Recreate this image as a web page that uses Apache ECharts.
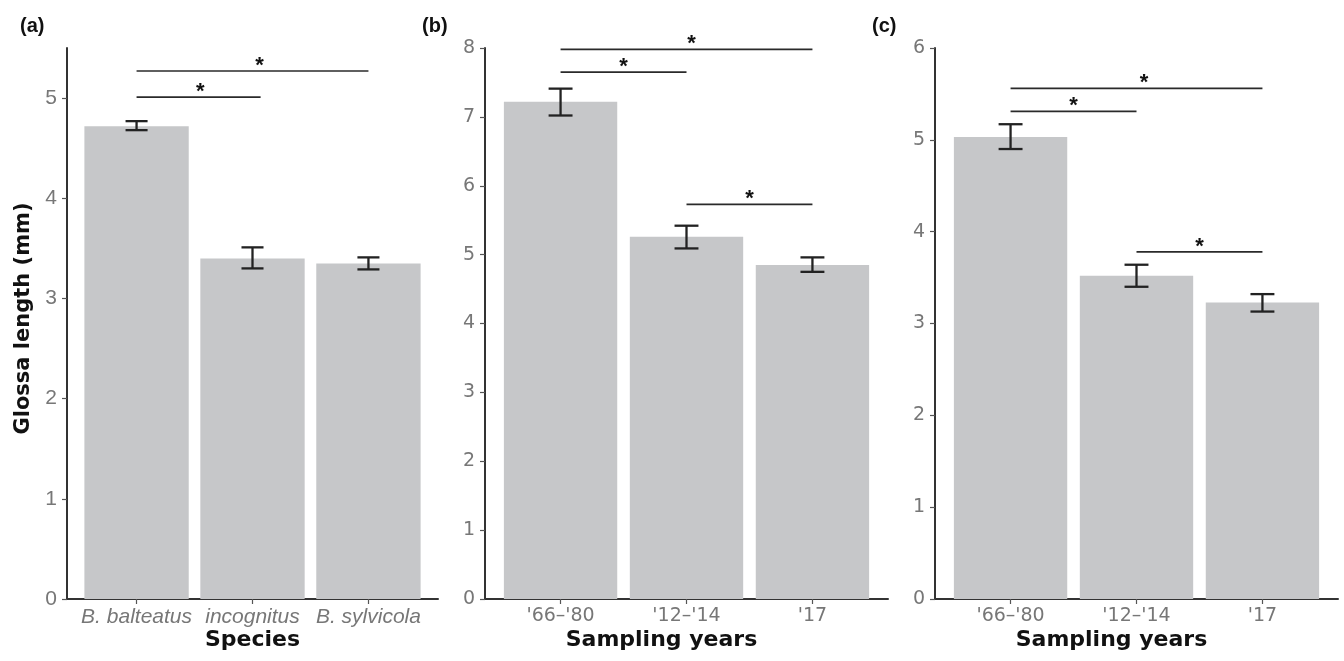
<!DOCTYPE html>
<html>
<head>
<meta charset="utf-8">
<script src="https://cdn.jsdelivr.net/npm/echarts@6/dist/echarts.min.js"></script>
<style>
  html, body { margin: 0; padding: 0; background: #fff; }
  #chart { width: 1344px; height: 661px; }
</style>
</head>
<body>
<div id="chart"></div>
<script>
// panel (a): species
const speciesNames = ['B. balteatus', 'incognitus', 'B. sylvicola']
const meanA = [4.72, 3.40, 3.35]
const lowA = [4.68, 3.30, 3.29]
const highA = [4.77, 3.51, 3.41]

// panels (b) and (c): sampling years
const yearLabels = ["'66–'80", "'12–'14", "'17"]
const meanB = [7.22, 5.26, 4.85]
const lowB = [7.02, 5.09, 4.75]
const highB = [7.41, 5.42, 4.96]
const meanC = [5.03, 3.52, 3.23]
const lowC = [4.90, 3.40, 3.13]
const highC = [5.17, 3.64, 3.32]

// significance bars: [from, to, height, star position]
const sigA = [[1, 3, 5.27, 2.06], [1, 2.07, 5.01, 1.55]]
const sigB = [[1, 3, 7.98, 2.04], [1, 2, 7.65, 1.5], [2, 3, 5.73, 2.5]]
const sigC = [[1, 3, 5.56, 2.06], [1, 2, 5.31, 1.5], [2, 3, 3.78, 2.5]]

const yTicksA = [0, 1, 2, 3, 4, 5]
const yTicksB = [0, 1, 2, 3, 4, 5, 6, 7, 8]
const yTicksC = [0, 1, 2, 3, 4, 5, 6]
const yMax = [5.5, 8, 6]

const barColor = '#c6c7c9'
const inkColor = '#222'
const sansA = 'Liberation Sans, Arial, sans-serif'
const sansB = 'DejaVu Sans, sans-serif'

const chart = echarts.init(document.getElementById('chart'))

const grids = [
  { left: 67, top: 48, width: 371, bottom: 62 },
  { left: 485, top: 48, width: 403, bottom: 62 },
  { left: 935, top: 48, width: 403, bottom: 62 }
]

const makeX = (gi, labels, name, labelFont, shift) => ({
  type: 'value',
  gridIndex: gi,
  min: 0.4,
  max: 3.6,
  name: name,
  nameLocation: 'middle',
  nameGap: 30,
  nameMoveOverlap: false,
  nameTextStyle: {
    fontFamily: sansB, fontWeight: 'bold', fontSize: 22, color: '#111',
    padding: [0, shift, 0, 0]
  },
  axisLine: { onZero: false, lineStyle: { color: '#333', width: 2 } },
  axisTick: { customValues: [1, 2, 3], length: 5, lineStyle: { color: '#555', width: 1.2 } },
  axisLabel: {
    customValues: [1, 2, 3],
    formatter: v => labels[Math.round(v) - 1],
    margin: 8,
    color: '#777',
    ...labelFont
  },
  splitLine: { show: false }
})

const makeY = (gi, ticks, max, labelFont) => ({
  type: 'value',
  gridIndex: gi,
  min: 0,
  max: max,
  axisLine: { show: true, onZero: false, lineStyle: { color: '#333', width: 2 } },
  axisTick: { show: true, customValues: ticks, length: 5, lineStyle: { color: '#555', width: 1.2 } },
  axisLabel: { customValues: ticks, margin: 10, color: '#777', ...labelFont },
  splitLine: { show: false }
})

const barSeries = (gi, means) => ({
  type: 'custom',
  xAxisIndex: gi,
  yAxisIndex: gi,
  data: means.map((m, i) => [i + 1, m]),
  encode: { x: 0, y: 1 },
  renderItem: (params, api) => {
    const a = api.coord([api.value(0) - 0.45, api.value(1)])
    const b = api.coord([api.value(0) + 0.45, 0])
    return {
      type: 'rect',
      shape: { x: a[0], y: a[1], width: b[0] - a[0], height: b[1] - a[1] },
      style: { fill: barColor }
    }
  }
})

const errSeries = (gi, lows, highs) => ({
  type: 'custom',
  xAxisIndex: gi,
  yAxisIndex: gi,
  z: 3,
  data: lows.map((l, i) => [i + 1, l, highs[i]]),
  encode: { x: 0, y: [1, 2] },
  renderItem: (params, api) => {
    const x = api.value(0)
    const lo = api.coord([x, api.value(1)])
    const hi = api.coord([x, api.value(2)])
    const half = api.size([0.095, 0])[0]
    const st = { stroke: inkColor, lineWidth: 2.3 }
    return {
      type: 'group',
      children: [
        { type: 'line', shape: { x1: lo[0], y1: lo[1], x2: hi[0], y2: hi[1] }, style: st },
        { type: 'line', shape: { x1: lo[0] - half, y1: lo[1], x2: lo[0] + half, y2: lo[1] }, style: st },
        { type: 'line', shape: { x1: hi[0] - half, y1: hi[1], x2: hi[0] + half, y2: hi[1] }, style: st }
      ]
    }
  }
})

const sigSeries = (gi, sig) => ({
  type: 'custom',
  xAxisIndex: gi,
  yAxisIndex: gi,
  z: 4,
  data: sig,
  encode: { x: [0, 1, 3], y: 2 },
  renderItem: (params, api) => {
    const p1 = api.coord([api.value(0), api.value(2)])
    const p2 = api.coord([api.value(1), api.value(2)])
    const s = api.coord([api.value(3), api.value(2)])
    return {
      type: 'group',
      children: [
        { type: 'line', shape: { x1: p1[0], y1: p1[1], x2: p2[0], y2: p2[1] }, style: { stroke: '#2a2a2a', lineWidth: 1.6 } },
        {
          type: 'text',
          x: s[0],
          y: s[1] + 6,
          style: { text: '*', fill: '#111', font: 'bold 22px Liberation Sans, Arial, sans-serif', align: 'center', verticalAlign: 'bottom' }
        }
      ]
    }
  }
})

const fontA = { fontFamily: sansA, fontSize: 21 }
const fontAx = { fontFamily: sansA, fontSize: 21, fontStyle: 'italic' }
const fontB = { fontFamily: sansB, fontSize: 19 }
const panelFont = { fontFamily: sansA, fontWeight: 'bold', fontSize: 20, color: '#111' }

const option = {
  animation: false,
  backgroundColor: '#fff',
  title: [
    { text: '(a)', left: 15, top: 11, textStyle: panelFont },
    { text: '(b)', left: 417, top: 11, textStyle: panelFont },
    { text: '(c)', left: 867, top: 11, textStyle: panelFont }
  ],
  grid: grids,
  xAxis: [
    makeX(0, speciesNames, 'Species', fontAx, 0),
    makeX(1, yearLabels, 'Sampling years', fontB, 50),
    makeX(2, yearLabels, 'Sampling years', fontB, 50)
  ],
  yAxis: [
    {
      ...makeY(0, yTicksA, yMax[0], fontA),
      name: 'Glossa length (mm)',
      nameLocation: 'middle',
      nameGap: 33,
      nameMoveOverlap: false,
      nameTextStyle: { fontFamily: sansB, fontWeight: 'bold', fontSize: 21, color: '#111', padding: [0, 0, 0, 10] }
    },
    makeY(1, yTicksB, yMax[1], fontB),
    makeY(2, yTicksC, yMax[2], fontB)
  ],
  series: [
    barSeries(0, meanA), errSeries(0, lowA, highA), sigSeries(0, sigA),
    barSeries(1, meanB), errSeries(1, lowB, highB), sigSeries(1, sigB),
    barSeries(2, meanC), errSeries(2, lowC, highC), sigSeries(2, sigC)
  ]
}

chart.setOption(option)
window.addEventListener('resize', () => chart.resize())
</script>
</body>
</html>
